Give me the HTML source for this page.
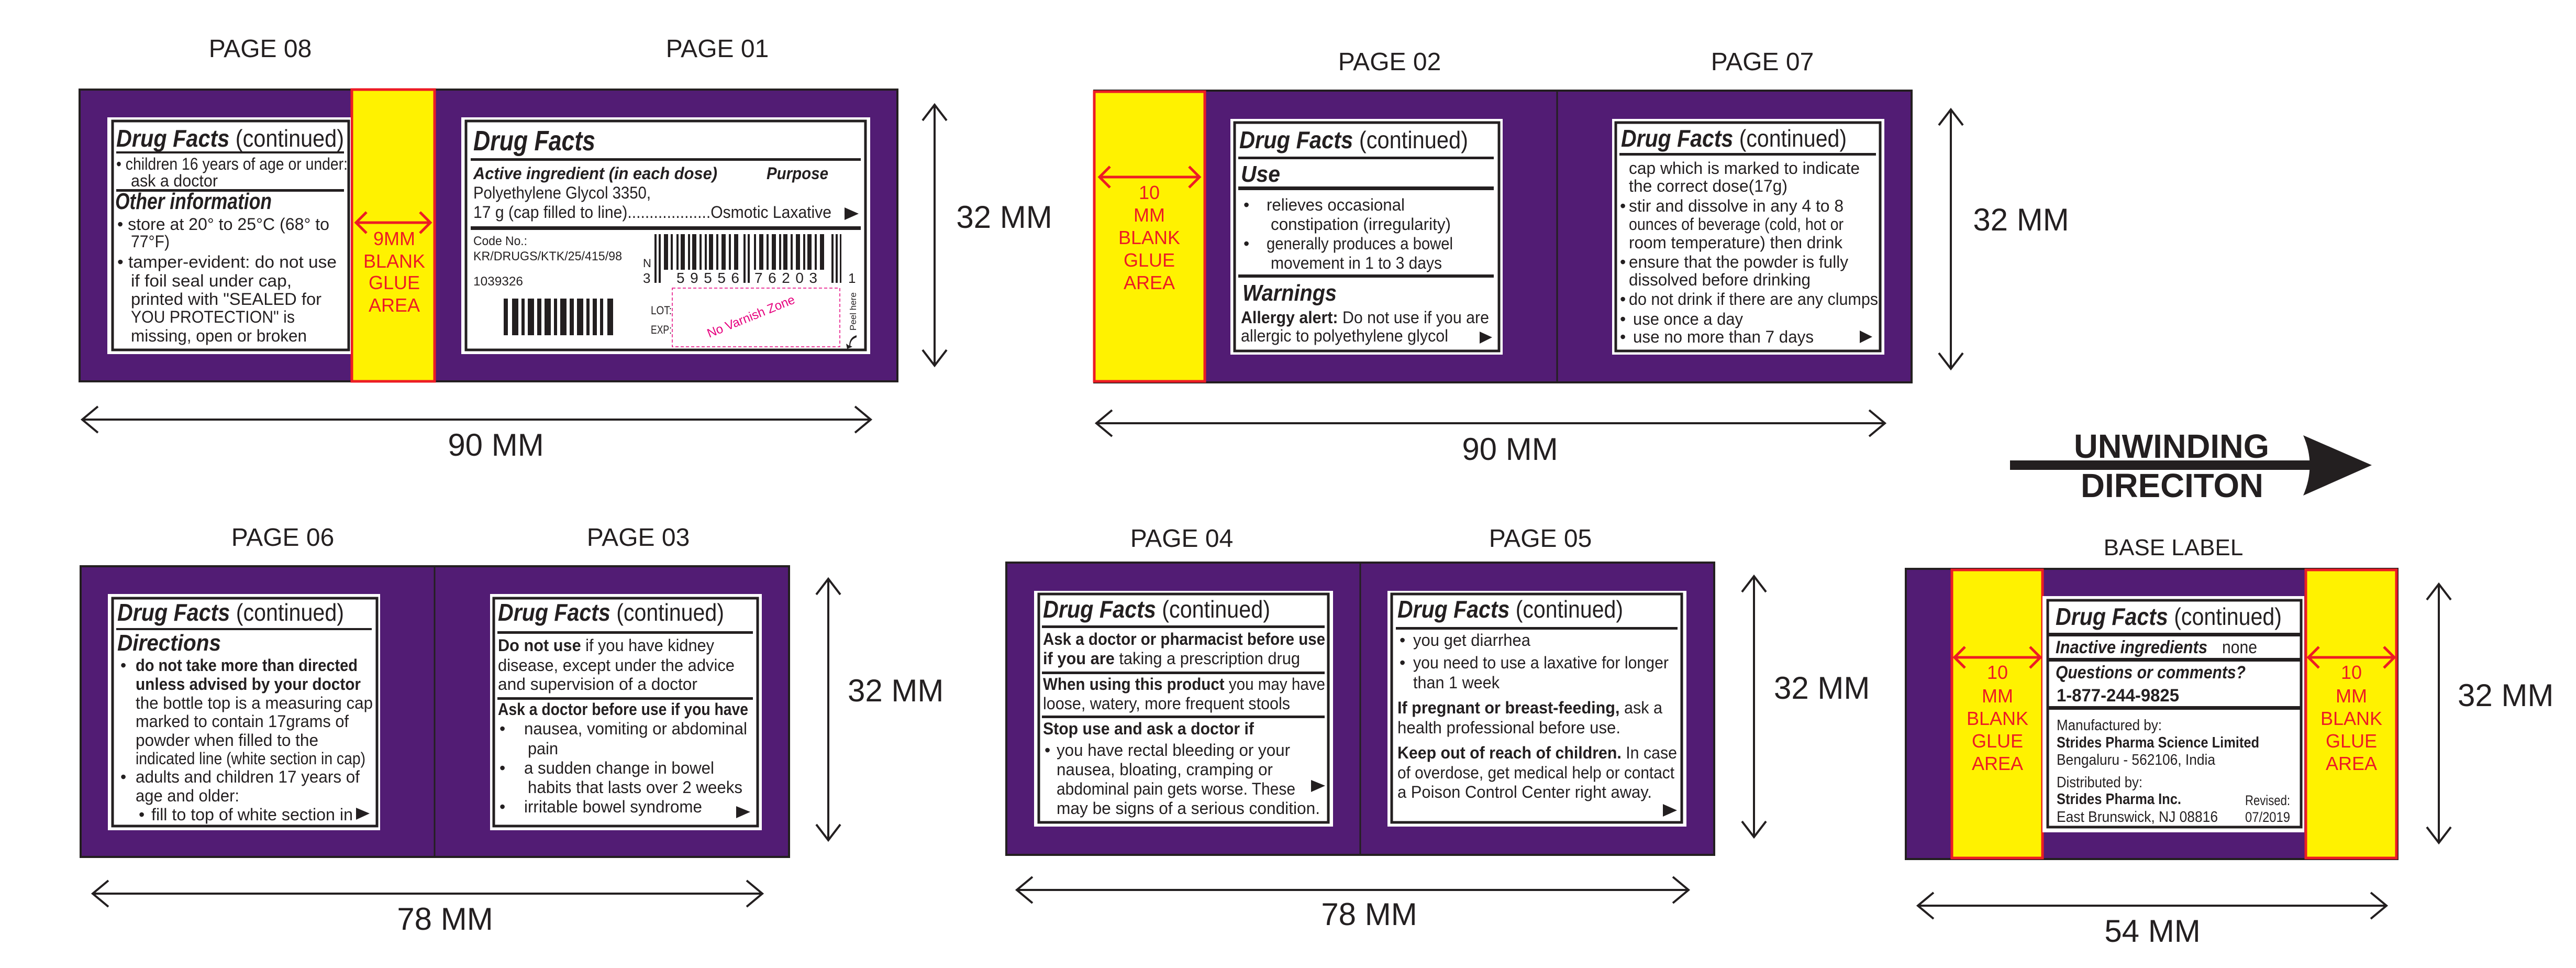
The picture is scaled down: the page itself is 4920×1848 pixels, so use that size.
<!DOCTYPE html>
<html><head><meta charset="utf-8"><style>
html,body{margin:0;padding:0;background:#fff;}
svg{display:block;}
text{font-family:"Liberation Sans",Arial,sans-serif;fill:#231f20;}
.b{font-size:32px;}
.h{font-size:46px;}
.s{font-size:44px;font-weight:bold;font-style:italic;}
.bi{font-weight:bold;font-style:italic;}
.bo{font-weight:bold;}
.pg{font-size:48px;}
.mm{font-size:60px;}
.g{font-size:36px;fill:#ed1c24;text-anchor:middle;}
.dim{stroke:#231f20;stroke-width:4;fill:none;}
.red{stroke:#ed1c24;stroke-width:5;fill:none;}
</style></head><body>
<svg width="4920" height="1848" viewBox="0 0 4920 1848" xmlns="http://www.w3.org/2000/svg">
<rect width="4920" height="1848" fill="#fff"/>

<!-- ============ TOP LEFT: PAGE 08 / PAGE 01 ============ -->
<text class="pg" x="497" y="109" text-anchor="middle">PAGE 08</text>
<text class="pg" x="1370" y="109" text-anchor="middle">PAGE 01</text>
<rect x="152" y="171" width="1562" height="557" fill="#521c74" stroke="#231f20" stroke-width="4"/>
<rect x="672" y="171" width="158" height="557" fill="#fff200" stroke="#ed1c24" stroke-width="5"/>
<line class="red" x1="680" y1="425" x2="822" y2="425"/>
<polyline class="red" points="700,405 680,425 700,445"/>
<polyline class="red" points="802,405 822,425 802,445"/>
<text class="g" x="753" y="468">9MM</text>
<text class="g" x="753" y="511">BLANK</text>
<text class="g" x="753" y="552">GLUE</text>
<text class="g" x="753" y="595">AREA</text>

<rect x="205" y="224" width="465" height="452" fill="#fff"/>
<rect x="215" y="231" width="451" height="437" fill="none" stroke="#231f20" stroke-width="5"/>
<text class="h" x="222" y="280" textLength="435" lengthAdjust="spacingAndGlyphs"><tspan class="bi">Drug Facts</tspan> (continued)</text>
<rect x="222" y="289" width="435" height="4" fill="#231f20"/>
<text class="b" x="222" y="324" textLength="442" lengthAdjust="spacingAndGlyphs">• children 16 years of age or under:</text>
<text class="b" x="250" y="356" textLength="166" lengthAdjust="spacingAndGlyphs">ask a doctor</text>
<rect x="222" y="361" width="435" height="5" fill="#231f20"/>
<text class="s" x="220" y="399" font-size="40" textLength="299" lengthAdjust="spacingAndGlyphs">Other information</text>
<text class="b" x="224" y="439" textLength="405" lengthAdjust="spacingAndGlyphs">• store at 20° to 25°C (68° to</text>
<text class="b" x="250" y="472" textLength="74" lengthAdjust="spacingAndGlyphs">77°F)</text>
<text class="b" x="224" y="511" textLength="419" lengthAdjust="spacingAndGlyphs">• tamper-evident: do not use</text>
<text class="b" x="250" y="547" textLength="307" lengthAdjust="spacingAndGlyphs">if foil seal under cap,</text>
<text class="b" x="250" y="582" textLength="364" lengthAdjust="spacingAndGlyphs">printed with "SEALED for</text>
<text class="b" x="250" y="616" textLength="313" lengthAdjust="spacingAndGlyphs">YOU PROTECTION" is</text>
<text class="b" x="250" y="652" textLength="336" lengthAdjust="spacingAndGlyphs">missing, open or broken</text>

<rect x="881" y="224" width="781" height="452" fill="#fff"/>
<rect x="890" y="231" width="763" height="437" fill="none" stroke="#231f20" stroke-width="5"/>
<text class="bi" x="904" y="287" font-size="54" textLength="233" lengthAdjust="spacingAndGlyphs">Drug Facts</text>
<rect x="899" y="302" width="745" height="5" fill="#231f20"/>
<text class="bi b" x="904" y="342" textLength="466" lengthAdjust="spacingAndGlyphs">Active ingredient (in each dose)</text>
<text class="bi b" x="1464" y="342" textLength="118" lengthAdjust="spacingAndGlyphs">Purpose</text>
<text class="b" x="904" y="379" textLength="339" lengthAdjust="spacingAndGlyphs">Polyethylene Glycol 3350,</text>
<text class="b" x="904" y="416" textLength="684" lengthAdjust="spacingAndGlyphs">17 g (cap filled to line)...................Osmotic Laxative</text>
<polygon points="1613,396 1640,408 1613,420" fill="#231f20"/>
<rect x="899" y="432" width="745" height="7" fill="#231f20"/>
<text x="904" y="468" font-size="24" textLength="103" lengthAdjust="spacingAndGlyphs">Code No.:</text>
<text x="904" y="497" font-size="24" textLength="284" lengthAdjust="spacingAndGlyphs">KR/DRUGS/KTK/25/415/98</text>
<text x="904" y="545" font-size="24" textLength="95" lengthAdjust="spacingAndGlyphs">1039326</text>
<g fill="#231f20">
<rect x="962" y="570" width="8" height="70"/><rect x="978" y="570" width="12" height="70"/><rect x="996" y="570" width="6" height="70"/>
<rect x="1008" y="570" width="12" height="70"/><rect x="1026" y="570" width="8" height="70"/><rect x="1040" y="570" width="12" height="70"/>
<rect x="1058" y="570" width="6" height="70"/><rect x="1070" y="570" width="12" height="70"/><rect x="1088" y="570" width="8" height="70"/>
<rect x="1102" y="570" width="12" height="70"/><rect x="1120" y="570" width="6" height="70"/><rect x="1132" y="570" width="8" height="70"/>
<rect x="1146" y="570" width="6" height="70"/><rect x="1160" y="570" width="11" height="70"/>
</g>
<g fill="#231f20">
<rect x="1250" y="447" width="4" height="93"/><rect x="1258" y="447" width="4" height="93"/>
<rect x="1268" y="447" width="8" height="68"/><rect x="1281" y="447" width="4" height="68"/>
<rect x="1292" y="447" width="4" height="68"/><rect x="1300" y="447" width="8" height="68"/><rect x="1314" y="447" width="4" height="68"/>
<rect x="1322" y="447" width="8" height="68"/><rect x="1336" y="447" width="4" height="68"/><rect x="1346" y="447" width="4" height="68"/>
<rect x="1354" y="447" width="8" height="68"/><rect x="1368" y="447" width="4" height="68"/><rect x="1378" y="447" width="8" height="68"/>
<rect x="1392" y="447" width="4" height="68"/><rect x="1402" y="447" width="8" height="68"/>
<rect x="1420" y="447" width="4" height="93"/><rect x="1428" y="447" width="4" height="93"/>
<rect x="1440" y="447" width="4" height="68"/><rect x="1450" y="447" width="8" height="68"/><rect x="1464" y="447" width="4" height="68"/>
<rect x="1474" y="447" width="8" height="68"/><rect x="1488" y="447" width="4" height="68"/><rect x="1496" y="447" width="8" height="68"/>
<rect x="1510" y="447" width="4" height="68"/><rect x="1520" y="447" width="8" height="68"/><rect x="1534" y="447" width="4" height="68"/>
<rect x="1542" y="447" width="8" height="68"/><rect x="1556" y="447" width="4" height="68"/><rect x="1566" y="447" width="8" height="68"/>
<rect x="1588" y="447" width="4" height="93"/><rect x="1596" y="447" width="4" height="93"/><rect x="1604" y="447" width="3" height="93"/>
</g>
<text x="1228" y="510" font-size="22">N</text>
<text x="1228" y="540" font-size="26">3</text>
<text x="1292" y="540" font-size="28" textLength="120" lengthAdjust="spacing">59556</text>
<text x="1441" y="540" font-size="28" textLength="120" lengthAdjust="spacing">76203</text>
<text x="1620" y="540" font-size="26">1</text>
<text x="1243" y="600" font-size="22" textLength="40" lengthAdjust="spacingAndGlyphs">LOT:</text>
<text x="1243" y="637" font-size="22" textLength="40" lengthAdjust="spacingAndGlyphs">EXP:</text>
<rect x="1284" y="550" width="320" height="112" fill="none" stroke="#e6007e" stroke-width="1.5" stroke-dasharray="6,4"/>
<text x="1435" y="612" font-size="24" text-anchor="middle" style="fill:#e6007e" transform="rotate(-22 1435 606)">No Varnish Zone</text>
<text x="1635" y="631" font-size="17" transform="rotate(-90 1635 631)">Peel here</text>
<path d="M1636,640 q-14,4 -14,20 l-6,-4 l2,10 l10,-4 l-4,-2 q0,-12 12,-16z" fill="#231f20"/>

<!-- dims top-left -->
<line class="dim" x1="157" y1="801" x2="1663" y2="801"/>
<polyline class="dim" points="187,776 157,801 187,826"/>
<polyline class="dim" points="1633,776 1663,801 1633,826"/>
<text class="mm" x="947" y="870" text-anchor="middle">90 MM</text>
<line class="dim" x1="1785" y1="200" x2="1785" y2="698"/>
<polyline class="dim" points="1762,230 1785,200 1808,230"/>
<polyline class="dim" points="1762,668 1785,698 1808,668"/>
<text class="mm" x="1918" y="435" text-anchor="middle">32 MM</text>

<!-- ============ TOP MIDDLE: PAGE 02 / PAGE 07 ============ -->
<text class="pg" x="2654" y="134" text-anchor="middle">PAGE 02</text>
<text class="pg" x="3366" y="134" text-anchor="middle">PAGE 07</text>
<rect x="2090" y="173" width="1561" height="557" fill="#521c74" stroke="#231f20" stroke-width="4"/>
<rect x="2090" y="175" width="211" height="553" fill="#fff200" stroke="#ed1c24" stroke-width="5"/>
<line x1="2974" y1="173" x2="2974" y2="730" stroke="#231f20" stroke-width="3"/>
<line class="red" x1="2100" y1="338" x2="2291" y2="338"/>
<polyline class="red" points="2120,318 2100,338 2120,358"/>
<polyline class="red" points="2271,318 2291,338 2271,358"/>
<text class="g" x="2195" y="380">10</text>
<text class="g" x="2195" y="423">MM</text>
<text class="g" x="2195" y="466">BLANK</text>
<text class="g" x="2195" y="509">GLUE</text>
<text class="g" x="2195" y="552">AREA</text>

<rect x="2350" y="227" width="520" height="450" fill="#fff"/>
<rect x="2358" y="234" width="505" height="436" fill="none" stroke="#231f20" stroke-width="5"/>
<text class="h" x="2367" y="283" textLength="437" lengthAdjust="spacingAndGlyphs"><tspan class="bi">Drug Facts</tspan> (continued)</text>
<rect x="2365" y="299" width="488" height="5" fill="#231f20"/>
<text class="s" x="2370" y="347" textLength="75" lengthAdjust="spacingAndGlyphs">Use</text>
<rect x="2365" y="356" width="488" height="7" fill="#231f20"/>
<text class="b" x="2375" y="402">•</text>
<text class="b" x="2419" y="402" textLength="264" lengthAdjust="spacingAndGlyphs">relieves occasional</text>
<text class="b" x="2427" y="439" textLength="344" lengthAdjust="spacingAndGlyphs">constipation (irregularity)</text>
<text class="b" x="2375" y="476">•</text>
<text class="b" x="2419" y="476" textLength="356" lengthAdjust="spacingAndGlyphs">generally produces a bowel</text>
<text class="b" x="2427" y="513" textLength="327" lengthAdjust="spacingAndGlyphs">movement in 1 to 3 days</text>
<rect x="2365" y="524" width="488" height="6" fill="#231f20"/>
<text class="s" x="2373" y="574" textLength="180" lengthAdjust="spacingAndGlyphs">Warnings</text>
<text class="b" x="2370" y="617" textLength="474" lengthAdjust="spacingAndGlyphs"><tspan class="bo">Allergy alert:</tspan> Do not use if you are</text>
<text class="b" x="2370" y="652" textLength="396" lengthAdjust="spacingAndGlyphs">allergic to polyethylene glycol</text>
<polygon points="2826,633 2850,644 2826,656" fill="#231f20"/>

<rect x="3079" y="227" width="520" height="450" fill="#fff"/>
<rect x="3086" y="234" width="505" height="436" fill="none" stroke="#231f20" stroke-width="5"/>
<text class="h" x="3096" y="280" textLength="431" lengthAdjust="spacingAndGlyphs"><tspan class="bi">Drug Facts</tspan> (continued)</text>
<rect x="3093" y="292" width="490" height="5" fill="#231f20"/>
<text class="b" x="3111" y="332" textLength="441" lengthAdjust="spacingAndGlyphs">cap which is marked to indicate</text>
<text class="b" x="3111" y="366" textLength="303" lengthAdjust="spacingAndGlyphs">the correct dose(17g)</text>
<text class="b" x="3094" y="404">•</text>
<text class="b" x="3111" y="404" textLength="410" lengthAdjust="spacingAndGlyphs">stir and dissolve in any 4 to 8</text>
<text class="b" x="3111" y="439" textLength="410" lengthAdjust="spacingAndGlyphs">ounces of beverage (cold, hot or</text>
<text class="b" x="3111" y="474" textLength="408" lengthAdjust="spacingAndGlyphs">room temperature) then drink</text>
<text class="b" x="3094" y="511">•</text>
<text class="b" x="3111" y="511" textLength="419" lengthAdjust="spacingAndGlyphs">ensure that the powder is fully</text>
<text class="b" x="3111" y="545" textLength="347" lengthAdjust="spacingAndGlyphs">dissolved before drinking</text>
<text class="b" x="3094" y="582">•</text>
<text class="b" x="3111" y="582" textLength="476" lengthAdjust="spacingAndGlyphs">do not drink if there are any clumps</text>
<text class="b" x="3094" y="620">•</text>
<text class="b" x="3119" y="620" textLength="210" lengthAdjust="spacingAndGlyphs">use once a day</text>
<text class="b" x="3094" y="654">•</text>
<text class="b" x="3119" y="654" textLength="345" lengthAdjust="spacingAndGlyphs">use no more than 7 days</text>
<polygon points="3552,631 3576,643 3552,655" fill="#231f20"/>

<!-- dims top-middle -->
<line class="dim" x1="2094" y1="808" x2="3600" y2="808"/>
<polyline class="dim" points="2124,783 2094,808 2124,833"/>
<polyline class="dim" points="3570,783 3600,808 3570,833"/>
<text class="mm" x="2884" y="878" text-anchor="middle">90 MM</text>
<line class="dim" x1="3726" y1="209" x2="3726" y2="704"/>
<polyline class="dim" points="3703,239 3726,209 3749,239"/>
<polyline class="dim" points="3703,674 3726,704 3749,674"/>
<text class="mm" x="3860" y="440" text-anchor="middle">32 MM</text>

<!-- UNWINDING -->
<rect x="3839" y="879" width="573" height="18" fill="#231f20"/>
<path d="M4399,831 L4530,888 L4399,946 Q4424,888 4399,831 Z" fill="#231f20"/>
<text class="bo" x="3961" y="874" font-size="64" textLength="373" lengthAdjust="spacingAndGlyphs">UNWINDING</text>
<text class="bo" x="3974" y="949" font-size="64" textLength="349" lengthAdjust="spacingAndGlyphs">DIRECITON</text>

<!-- ============ BOTTOM LEFT: PAGE 06 / PAGE 03 ============ -->
<text class="pg" x="540" y="1042" text-anchor="middle">PAGE 06</text>
<text class="pg" x="1219" y="1042" text-anchor="middle">PAGE 03</text>
<rect x="154" y="1081" width="1353" height="555" fill="#521c74" stroke="#231f20" stroke-width="4"/>
<line x1="830" y1="1081" x2="830" y2="1636" stroke="#231f20" stroke-width="3"/>

<rect x="206" y="1134" width="520" height="451" fill="#fff"/>
<rect x="215" y="1142" width="505" height="435" fill="none" stroke="#231f20" stroke-width="5"/>
<text class="h" x="224" y="1185" textLength="433" lengthAdjust="spacingAndGlyphs"><tspan class="bi">Drug Facts</tspan> (continued)</text>
<rect x="222" y="1199" width="488" height="4" fill="#231f20"/>
<text class="s" x="224" y="1242" textLength="198" lengthAdjust="spacingAndGlyphs">Directions</text>
<text class="b" x="230" y="1281">•</text>
<text class="b bo" x="259" y="1281" textLength="424" lengthAdjust="spacingAndGlyphs">do not take more than directed</text>
<text class="b bo" x="259" y="1317" textLength="430" lengthAdjust="spacingAndGlyphs">unless advised by your doctor</text>
<text class="b" x="259" y="1353" textLength="453" lengthAdjust="spacingAndGlyphs">the bottle top is a measuring cap</text>
<text class="b" x="259" y="1388" textLength="407" lengthAdjust="spacingAndGlyphs">marked to contain 17grams of</text>
<text class="b" x="259" y="1424" textLength="349" lengthAdjust="spacingAndGlyphs">powder when filled to the</text>
<text class="b" x="259" y="1459" textLength="439" lengthAdjust="spacingAndGlyphs">indicated line (white section in cap)</text>
<text class="b" x="230" y="1494">•</text>
<text class="b" x="259" y="1494" textLength="428" lengthAdjust="spacingAndGlyphs">adults and children 17 years of</text>
<text class="b" x="259" y="1530" textLength="198" lengthAdjust="spacingAndGlyphs">age and older:</text>
<text class="b" x="265" y="1566">•</text>
<text class="b" x="289" y="1566" textLength="385" lengthAdjust="spacingAndGlyphs">fill to top of white section in</text>
<polygon points="680,1542 706,1553 680,1565" fill="#231f20"/>

<rect x="936" y="1134" width="519" height="451" fill="#fff"/>
<rect x="943" y="1142" width="504" height="435" fill="none" stroke="#231f20" stroke-width="5"/>
<text class="h" x="951" y="1185" textLength="432" lengthAdjust="spacingAndGlyphs"><tspan class="bi">Drug Facts</tspan> (continued)</text>
<rect x="950" y="1205" width="488" height="5" fill="#231f20"/>
<text class="b" x="951" y="1243" textLength="413" lengthAdjust="spacingAndGlyphs"><tspan class="bo">Do not use</tspan> if you have kidney</text>
<text class="b" x="951" y="1281" textLength="452" lengthAdjust="spacingAndGlyphs">disease, except under the advice</text>
<text class="b" x="951" y="1317" textLength="381" lengthAdjust="spacingAndGlyphs">and supervision of a doctor</text>
<rect x="950" y="1331" width="488" height="5" fill="#231f20"/>
<text class="b bo" x="951" y="1365" textLength="478" lengthAdjust="spacingAndGlyphs">Ask a doctor before use if you have</text>
<text class="b" x="954" y="1402">•</text>
<text class="b" x="1001" y="1402" textLength="426" lengthAdjust="spacingAndGlyphs">nausea, vomiting or abdominal</text>
<text class="b" x="1008" y="1440" textLength="58" lengthAdjust="spacingAndGlyphs">pain</text>
<text class="b" x="954" y="1477">•</text>
<text class="b" x="1001" y="1477" textLength="363" lengthAdjust="spacingAndGlyphs">a sudden change in bowel</text>
<text class="b" x="1008" y="1514" textLength="410" lengthAdjust="spacingAndGlyphs">habits that lasts over 2 weeks</text>
<text class="b" x="954" y="1551">•</text>
<text class="b" x="1001" y="1551" textLength="340" lengthAdjust="spacingAndGlyphs">irritable bowel syndrome</text>
<polygon points="1406,1539 1433,1550 1406,1562" fill="#231f20"/>

<!-- dims bottom-left -->
<line class="dim" x1="177" y1="1706" x2="1456" y2="1706"/>
<polyline class="dim" points="207,1681 177,1706 207,1731"/>
<polyline class="dim" points="1426,1681 1456,1706 1426,1731"/>
<text class="mm" x="850" y="1775" text-anchor="middle">78 MM</text>
<line class="dim" x1="1582" y1="1105" x2="1582" y2="1604"/>
<polyline class="dim" points="1559,1135 1582,1105 1605,1135"/>
<polyline class="dim" points="1559,1574 1582,1604 1605,1574"/>
<text class="mm" x="1619" y="1339">32 MM</text>

<!-- ============ BOTTOM MIDDLE: PAGE 04 / PAGE 05 ============ -->
<text class="pg" x="2257" y="1044" text-anchor="middle">PAGE 04</text>
<text class="pg" x="2942" y="1044" text-anchor="middle">PAGE 05</text>
<rect x="1922" y="1074" width="1352" height="558" fill="#521c74" stroke="#231f20" stroke-width="4"/>
<line x1="2598" y1="1074" x2="2598" y2="1632" stroke="#231f20" stroke-width="3"/>

<rect x="1975" y="1128" width="571" height="450" fill="#fff"/>
<rect x="1984" y="1134" width="553" height="436" fill="none" stroke="#231f20" stroke-width="5"/>
<text class="h" x="1992" y="1179" textLength="434" lengthAdjust="spacingAndGlyphs"><tspan class="bi">Drug Facts</tspan> (continued)</text>
<rect x="1990" y="1194" width="540" height="5" fill="#231f20"/>
<text class="b bo" x="1992" y="1231" textLength="539" lengthAdjust="spacingAndGlyphs">Ask a doctor or pharmacist before use</text>
<text class="b" x="1992" y="1268" textLength="491" lengthAdjust="spacingAndGlyphs"><tspan class="bo">if you are</tspan> taking a prescription drug</text>
<rect x="1990" y="1282" width="540" height="5" fill="#231f20"/>
<text class="b" x="1992" y="1317" textLength="539" lengthAdjust="spacingAndGlyphs"><tspan class="bo">When using this product</tspan> you may have</text>
<text class="b" x="1992" y="1354" textLength="472" lengthAdjust="spacingAndGlyphs">loose, watery, more frequent stools</text>
<rect x="1990" y="1366" width="540" height="5" fill="#231f20"/>
<text class="b bo" x="1992" y="1402" textLength="403" lengthAdjust="spacingAndGlyphs">Stop use and ask a doctor if</text>
<text class="b" x="1995" y="1443">•</text>
<text class="b" x="2018" y="1443" textLength="446" lengthAdjust="spacingAndGlyphs">you have rectal bleeding or your</text>
<text class="b" x="2018" y="1480" textLength="413" lengthAdjust="spacingAndGlyphs">nausea, bloating, cramping or</text>
<text class="b" x="2018" y="1517" textLength="456" lengthAdjust="spacingAndGlyphs">abdominal pain gets worse. These</text>
<polygon points="2504,1489 2531,1500 2504,1512" fill="#231f20"/>
<text class="b" x="2018" y="1554" textLength="503" lengthAdjust="spacingAndGlyphs">may be signs of a serious condition.</text>

<rect x="2650" y="1128" width="571" height="450" fill="#fff"/>
<rect x="2658" y="1134" width="554" height="436" fill="none" stroke="#231f20" stroke-width="5"/>
<text class="h" x="2669" y="1179" textLength="431" lengthAdjust="spacingAndGlyphs"><tspan class="bi">Drug Facts</tspan> (continued)</text>
<rect x="2666" y="1197" width="538" height="5" fill="#231f20"/>
<text class="b" x="2673" y="1233">•</text>
<text class="b" x="2699" y="1233" textLength="224" lengthAdjust="spacingAndGlyphs">you get diarrhea</text>
<text class="b" x="2673" y="1276">•</text>
<text class="b" x="2699" y="1276" textLength="488" lengthAdjust="spacingAndGlyphs">you need to use a laxative for longer</text>
<text class="b" x="2699" y="1314" textLength="165" lengthAdjust="spacingAndGlyphs">than 1 week</text>
<text class="b" x="2669" y="1362" textLength="506" lengthAdjust="spacingAndGlyphs"><tspan class="bo">If pregnant or breast-feeding,</tspan> ask a</text>
<text class="b" x="2669" y="1400" textLength="426" lengthAdjust="spacingAndGlyphs">health professional before use.</text>
<text class="b" x="2669" y="1448" textLength="534" lengthAdjust="spacingAndGlyphs"><tspan class="bo">Keep out of reach of children.</tspan> In case</text>
<text class="b" x="2669" y="1486" textLength="529" lengthAdjust="spacingAndGlyphs">of overdose, get medical help or contact</text>
<text class="b" x="2669" y="1523" textLength="486" lengthAdjust="spacingAndGlyphs">a Poison Control Center right away.</text>
<polygon points="3176,1535 3203,1547 3176,1559" fill="#231f20"/>

<!-- dims bottom-middle -->
<line class="dim" x1="1942" y1="1699" x2="3225" y2="1699"/>
<polyline class="dim" points="1972,1674 1942,1699 1972,1724"/>
<polyline class="dim" points="3195,1674 3225,1699 3195,1724"/>
<text class="mm" x="2615" y="1766" text-anchor="middle">78 MM</text>
<line class="dim" x1="3350" y1="1100" x2="3350" y2="1598"/>
<polyline class="dim" points="3327,1130 3350,1100 3373,1130"/>
<polyline class="dim" points="3327,1568 3350,1598 3373,1568"/>
<text class="mm" x="3388" y="1334">32 MM</text>

<!-- ============ BASE LABEL ============ -->
<text x="4151" y="1060" font-size="44" text-anchor="middle">BASE LABEL</text>
<rect x="3640" y="1086" width="939" height="554" fill="#521c74" stroke="#231f20" stroke-width="4"/>
<rect x="3728" y="1088" width="173" height="550" fill="#fff200" stroke="#ed1c24" stroke-width="5"/>
<rect x="4404" y="1088" width="173" height="550" fill="#fff200" stroke="#ed1c24" stroke-width="5"/>
<line class="red" x1="3733" y1="1255" x2="3897" y2="1255"/>
<polyline class="red" points="3753,1235 3733,1255 3753,1275"/>
<polyline class="red" points="3877,1235 3897,1255 3877,1275"/>
<line class="red" x1="4409" y1="1255" x2="4573" y2="1255"/>
<polyline class="red" points="4429,1235 4409,1255 4429,1275"/>
<polyline class="red" points="4553,1235 4573,1255 4553,1275"/>
<text class="g" x="3815" y="1296">10</text>
<text class="g" x="3815" y="1341">MM</text>
<text class="g" x="3815" y="1384">BLANK</text>
<text class="g" x="3815" y="1427">GLUE</text>
<text class="g" x="3815" y="1470">AREA</text>
<text class="g" x="4491" y="1296">10</text>
<text class="g" x="4491" y="1341">MM</text>
<text class="g" x="4491" y="1384">BLANK</text>
<text class="g" x="4491" y="1427">GLUE</text>
<text class="g" x="4491" y="1470">AREA</text>

<rect x="3901" y="1138" width="500" height="451" fill="#fff"/>
<rect x="3911" y="1146" width="484" height="433" fill="none" stroke="#231f20" stroke-width="5"/>
<rect x="3911" y="1208" width="484" height="7" fill="#231f20"/>
<rect x="3911" y="1256" width="484" height="7" fill="#231f20"/>
<rect x="3911" y="1348" width="484" height="7" fill="#231f20"/>
<text class="h" x="3926" y="1193" textLength="432" lengthAdjust="spacingAndGlyphs"><tspan class="bi">Drug Facts</tspan> (continued)</text>
<text class="bi" x="3926" y="1247" font-size="34" textLength="290" lengthAdjust="spacingAndGlyphs">Inactive ingredients</text>
<text x="4244" y="1247" font-size="34" textLength="67" lengthAdjust="spacingAndGlyphs">none</text>
<text class="bi" x="3926" y="1295" font-size="34" textLength="363" lengthAdjust="spacingAndGlyphs">Questions or comments?</text>
<text class="bo" x="3928" y="1339" font-size="34" textLength="234" lengthAdjust="spacingAndGlyphs">1-877-244-9825</text>
<text x="3928" y="1394" font-size="29" textLength="201" lengthAdjust="spacingAndGlyphs">Manufactured by:</text>
<text class="bo" x="3928" y="1427" font-size="29" textLength="387" lengthAdjust="spacingAndGlyphs">Strides Pharma Science Limited</text>
<text x="3928" y="1460" font-size="29" textLength="303" lengthAdjust="spacingAndGlyphs">Bengaluru - 562106, India</text>
<text x="3928" y="1503" font-size="29" textLength="164" lengthAdjust="spacingAndGlyphs">Distributed by:</text>
<text class="bo" x="3928" y="1535" font-size="29" textLength="238" lengthAdjust="spacingAndGlyphs">Strides Pharma Inc.</text>
<text x="3928" y="1569" font-size="29" textLength="308" lengthAdjust="spacingAndGlyphs">East Brunswick, NJ 08816</text>
<text x="4288" y="1537" font-size="27" textLength="86" lengthAdjust="spacingAndGlyphs">Revised:</text>
<text x="4288" y="1569" font-size="27" textLength="86" lengthAdjust="spacingAndGlyphs">07/2019</text>

<!-- dims base -->
<line class="dim" x1="3663" y1="1729" x2="4558" y2="1729"/>
<polyline class="dim" points="3693,1704 3663,1729 3693,1754"/>
<polyline class="dim" points="4528,1704 4558,1729 4528,1754"/>
<text class="mm" x="4111" y="1798" text-anchor="middle">54 MM</text>
<line class="dim" x1="4658" y1="1115" x2="4658" y2="1609"/>
<polyline class="dim" points="4635,1145 4658,1115 4681,1145"/>
<polyline class="dim" points="4635,1579 4658,1609 4681,1579"/>
<text class="mm" x="4694" y="1348">32 MM</text>
</svg>
</body></html>
